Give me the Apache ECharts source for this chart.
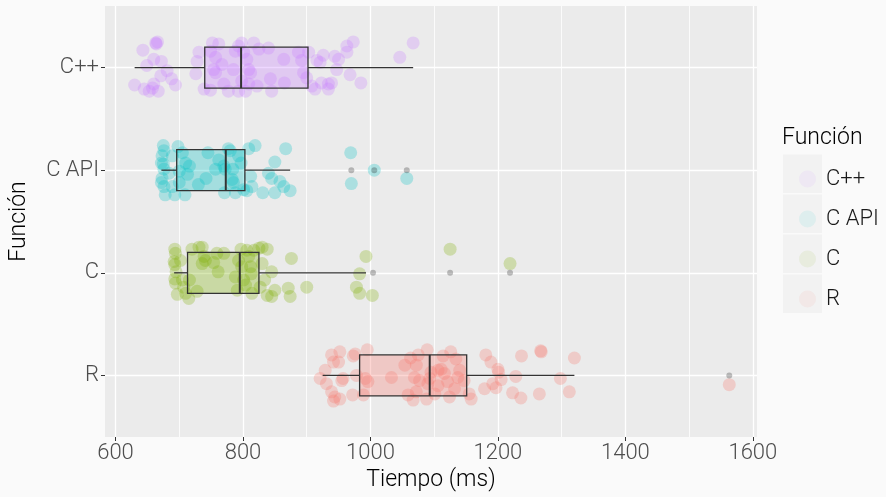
<!DOCTYPE html>
<html><head><meta charset="utf-8">
<script src="https://cdn.jsdelivr.net/npm/echarts@6/dist/echarts.min.js"></script>
<style>html,body{margin:0;padding:0;background:#fafafa}#c{width:886px;height:497px}</style>
</head><body><div id="c"></div><script>
// categories top to bottom
const categories = ['C++', 'C API', 'C', 'R'];
const colors = ['#C77CFF', '#00BFC4', '#7CAE00', '#F8766D'];
const xTicks = [600, 800, 1000, 1200, 1400, 1600];
const xMinor = [700, 900, 1100, 1300, 1500];

// box stats: [lower whisker, Q1, median, Q3, upper whisker]
const boxCpp = [630, 740, 797, 902, 1067];
const boxCapi = [672, 696, 773, 803, 874];
const boxC = [692, 713, 795, 825, 993];
const boxR = [925, 983, 1093, 1151, 1320];

const outCpp = [];
const outCapi = [970, 1006, 1057];
const outC = [1004, 1125, 1219];
const outR = [1563];

// jittered points: [time (ms), vertical jitter]
const ptsCpp = [[663,0.24],[666,0.25],[664,0.23],[643,0.17],[649,0.02],[660,0.08],[672,0.06],[681,-0.03],[671,-0.08],[688,-0.11],[694,-0.17],[630,-0.17],[645,-0.21],[653,-0.23],[660,-0.16],[667,-0.23],[658,-0.2],[731,0.15],[728,0.06],[726,-0.06],[739,-0.21],[749,-0.22],[752,0.24],[762,0.23],[749,0.16],[757,0.1],[754,-0.02],[757,-0.05],[767,0.03],[770,-0.16],[777,-0.23],[785,-0.02],[788,0.16],[793,0.21],[798,0.24],[801,0.15],[806,0.08],[809,-0.02],[812,-0.05],[798,-0.13],[793,-0.23],[804,-0.23],[809,-0.16],[817,0.24],[825,0.18],[822,-0.18],[840,0.19],[843,-0.11],[845,-0.23],[864,0.08],[865,-0.15],[887,0.15],[892,0.07],[895,-0.05],[903,0.15],[900,-0.1],[908,-0.18],[913,-0.21],[916,0.07],[921,0.05],[926,0.12],[923,-0.15],[934,-0.16],[934,-0.21],[939,-0.15],[944,0.11],[950,0.08],[947,-0.02],[963,0.21],[963,0.15],[973,0.25],[968,-0.07],[985,-0.15],[1046,0.1],[1067,0.24]];
const ptsCapi = [[675,0.24],[676,0.19],[673,0.14],[672,0.07],[675,0.06],[676,0.01],[673,-0.08],[672,-0.12],[676,-0.16],[678,-0.24],[693,-0.24],[698,0.23],[705,0.17],[710,0.07],[716,0.04],[713,-0.04],[709,-0.24],[700,-0.12],[689,0.14],[684,-0.03],[730,-0.14],[742,-0.08],[745,0.17],[762,0.1],[770,0.04],[772,0.01],[777,0.21],[780,0.19],[783,-0.09],[785,-0.12],[771,-0.22],[788,-0.22],[793,0.14],[797,0.07],[801,-0.19],[809,0.21],[819,0.24],[812,-0.06],[814,-0.16],[806,-0.2],[831,-0.22],[840,-0.03],[845,-0.08],[850,0.08],[850,-0.22],[858,-0.11],[864,-0.16],[867,0.21],[874,-0.2],[969,0.17],[970,-0.13],[1006,0],[1057,-0.08],[784,0.01],[757,0.01],[700,-0.01],[689,-0.16]];
const ptsC = [[693,0.23],[694,0.19],[692,0.11],[693,0.08],[695,0.01],[693,-0.06],[694,-0.1],[697,-0.21],[710,-0.2],[715,-0.25],[705,-0.07],[716,-0.07],[720,0.23],[731,0.25],[736,0.25],[739,0.16],[736,0.09],[741,0.12],[728,-0.18],[754,0.1],[759,0.19],[770,0.19],[761,0.01],[791,-0.17],[788,-0.04],[793,0.12],[797,0.23],[806,0.22],[809,0.16],[812,0.06],[813,-0.01],[804,-0.12],[814,-0.2],[817,0.22],[825,0.24],[830,0.25],[838,0.23],[830,0.09],[834,-0.07],[827,-0.14],[838,-0.22],[845,-0.23],[845,0.01],[850,-0.17],[871,-0.15],[876,0.14],[874,-0.23],[900,-0.14],[978,-0.14],[983,-0.2],[983,-0.01],[993,0.16],[1003,-0.22],[1125,0.23],[1219,0.09],[798,0.06],[801,-0.07],[702,0.12],[707,-0.14]];
const ptsR = [[939,0.2],[952,0.23],[929,0.05],[942,0.13],[950,0.13],[921,-0.03],[931,-0.08],[939,-0.16],[944,-0.21],[952,-0.23],[942,-0.25],[957,-0.03],[955,-0.05],[973,0.19],[976,0.21],[995,0.25],[978,0],[992,-0.03],[996,-0.06],[989,-0.19],[972,-0.19],[1033,-0.02],[1054,0.1],[1063,0.17],[1075,0.2],[1089,0.25],[1072,0.1],[1069,-0.02],[1077,-0.05],[1059,-0.19],[1067,-0.24],[1072,-0.16],[1088,-0.23],[1090,-0.08],[1095,0.03],[1101,-0.18],[1106,-0.1],[1114,0.19],[1126,0.23],[1134,0.16],[1111,0.06],[1116,0.02],[1121,-0.06],[1132,-0.13],[1140,0.05],[1137,-0.02],[1124,-0.21],[1147,-0.05],[1155,-0.18],[1158,-0.23],[1181,0.2],[1189,0.13],[1200,0.06],[1201,0.03],[1205,-0.04],[1192,-0.08],[1197,-0.12],[1179,-0.13],[1228,-0.01],[1223,-0.17],[1236,-0.22],[1237,0.19],[1265,-0.18],[1267,0.24],[1268,0.23],[1298,-0.03],[1312,-0.16],[1320,0.17],[1563,-0.09],[1106,0.05],[1093,-0.03]];

const boxes = [boxCpp, boxCapi, boxC, boxR];
const outliers = [outCpp, outCapi, outC, outR];
const points = [ptsCpp, ptsCapi, ptsC, ptsR];

const FONT = 'Roboto';
const pos = i => categories.length - 1 - i;
function rgba(hex, a) {
  const n = parseInt(hex.slice(1), 16);
  return 'rgba(' + (n >> 16) + ',' + ((n >> 8) & 255) + ',' + (n & 255) + ',' + a + ')';
}

const series = [];
series.push({
  type: 'scatter', name: '_grid', data: [], silent: true, z: 0,
  markLine: {
    silent: true, symbol: 'none', animation: false, label: { show: false }, z: 0,
    emphasis: { disabled: true },
    data: [
      ...xMinor.map(v => ({ xAxis: v, lineStyle: { color: '#ffffff', width: 0.8, type: 'solid' } })),
      ...xTicks.map(v => ({ xAxis: v, lineStyle: { color: '#ffffff', width: 1.3, type: 'solid' } })),
      ...categories.map((c, i) => ({ yAxis: pos(i), lineStyle: { color: '#ffffff', width: 1.3, type: 'solid' } }))
    ]
  }
});
categories.forEach((c, i) => {
  series.push({
    type: 'scatter', name: c, z: 2, symbolSize: 13, silent: true,
    itemStyle: { color: colors[i], opacity: 0.27 },
    data: points[i].map(p => [p[0], pos(i) + p[1]])
  });
});
series.push({
  type: 'custom', name: '_box', z: 3, silent: true,
  data: boxes.map((b, i) => [...b, pos(i), i]),
  renderItem: function (params, api) {
    const y = api.value(5), idx = api.value(6), h = 0.2;
    const lo = api.coord([api.value(0), y]);
    const q1 = api.coord([api.value(1), y]);
    const q3 = api.coord([api.value(3), y]);
    const hi = api.coord([api.value(4), y]);
    const tl = api.coord([api.value(1), y + h]);
    const br = api.coord([api.value(3), y - h]);
    const mt = api.coord([api.value(2), y + h]);
    const mb = api.coord([api.value(2), y - h]);
    const stroke = '#333333';
    return {
      type: 'group', children: [
        { type: 'line', shape: { x1: lo[0], y1: lo[1], x2: q1[0], y2: q1[1] }, style: { stroke: stroke, lineWidth: 1.3 } },
        { type: 'line', shape: { x1: q3[0], y1: q3[1], x2: hi[0], y2: hi[1] }, style: { stroke: stroke, lineWidth: 1.3 } },
        { type: 'rect', shape: { x: tl[0], y: tl[1], width: br[0] - tl[0], height: br[1] - tl[1] }, style: { fill: rgba(colors[idx], 0.3), stroke: stroke, lineWidth: 1.3 } },
        { type: 'line', shape: { x1: mt[0], y1: mt[1], x2: mb[0], y2: mb[1] }, style: { stroke: stroke, lineWidth: 2 } }
      ]
    };
  }
});
series.push({
  type: 'scatter', name: '_out', z: 4, symbolSize: 6, silent: true,
  itemStyle: { color: 'rgba(0,0,0,0.3)' },
  data: outliers.flatMap((o, i) => o.map(v => [v, pos(i)]))
});

const chart = echarts.init(document.getElementById('c'), null, { renderer: 'canvas' });
chart.setOption({
  animation: false,
  backgroundColor: '#fafafa',
  grid: { left: 102, right: 129, top: 6, bottom: 60, show: true, backgroundColor: '#ebebeb', borderWidth: 0 },
  xAxis: {
    type: 'value', min: 583.5, max: 1606.5,
    splitLine: { show: false }, axisLine: { show: false, onZero: false },
    axisTick: { show: true, length: 4, lineStyle: { color: '#333333', width: 1 }, customValues: xTicks },
    axisLabel: { customValues: xTicks, formatter: v => String(v), color: '#4d4d4d', fontSize: 22, fontFamily: FONT, fontWeight: 300, margin: 5 },
    name: 'Tiempo (ms)', nameLocation: 'middle', nameGap: 31,
    nameTextStyle: { color: '#000000', fontSize: 23, fontFamily: FONT, fontWeight: 300 }
  },
  yAxis: {
    type: 'value', min: -0.6, max: 3.6,
    splitLine: { show: false }, axisLine: { show: false, onZero: false },
    axisTick: { show: true, length: 4, lineStyle: { color: '#333333', width: 1 }, customValues: [0, 1, 2, 3] },
    axisLabel: { customValues: [0, 1, 2, 3], formatter: v => categories[pos(v)], color: '#4d4d4d', fontSize: 22, fontFamily: FONT, fontWeight: 300, margin: 6 },
    name: 'Función', nameLocation: 'middle', nameRotate: 90, nameGap: 74,
    nameTextStyle: { color: '#000000', fontSize: 23, fontFamily: FONT, fontWeight: 300 }
  },
  title: { text: 'Función', left: 782, top: 127, padding: 0, textStyle: { color: '#000000', fontSize: 23, fontFamily: FONT, fontWeight: 300 } },
  graphic: categories.map((c, i) => ({
    type: 'rect', left: 783, top: 154.5 + 40 * i, z: 0, silent: true,
    shape: { width: 39, height: 38.5 }, style: { fill: '#f2f2f2' }
  })),
  legend: {
    orient: 'vertical', left: 794, top: 163, itemWidth: 17, itemHeight: 17, itemGap: 18,
    icon: 'circle', selectedMode: false,
    data: categories.map((c, i) => ({ name: c, itemStyle: { color: rgba(colors[i], 0.3) } })),
    textStyle: { fontSize: 22, lineHeight: 22, fontFamily: FONT, fontWeight: 300, color: '#1a1a1a', padding: [0, 0, 0, 5] }
  },
  series: series
});
</script></body></html>
